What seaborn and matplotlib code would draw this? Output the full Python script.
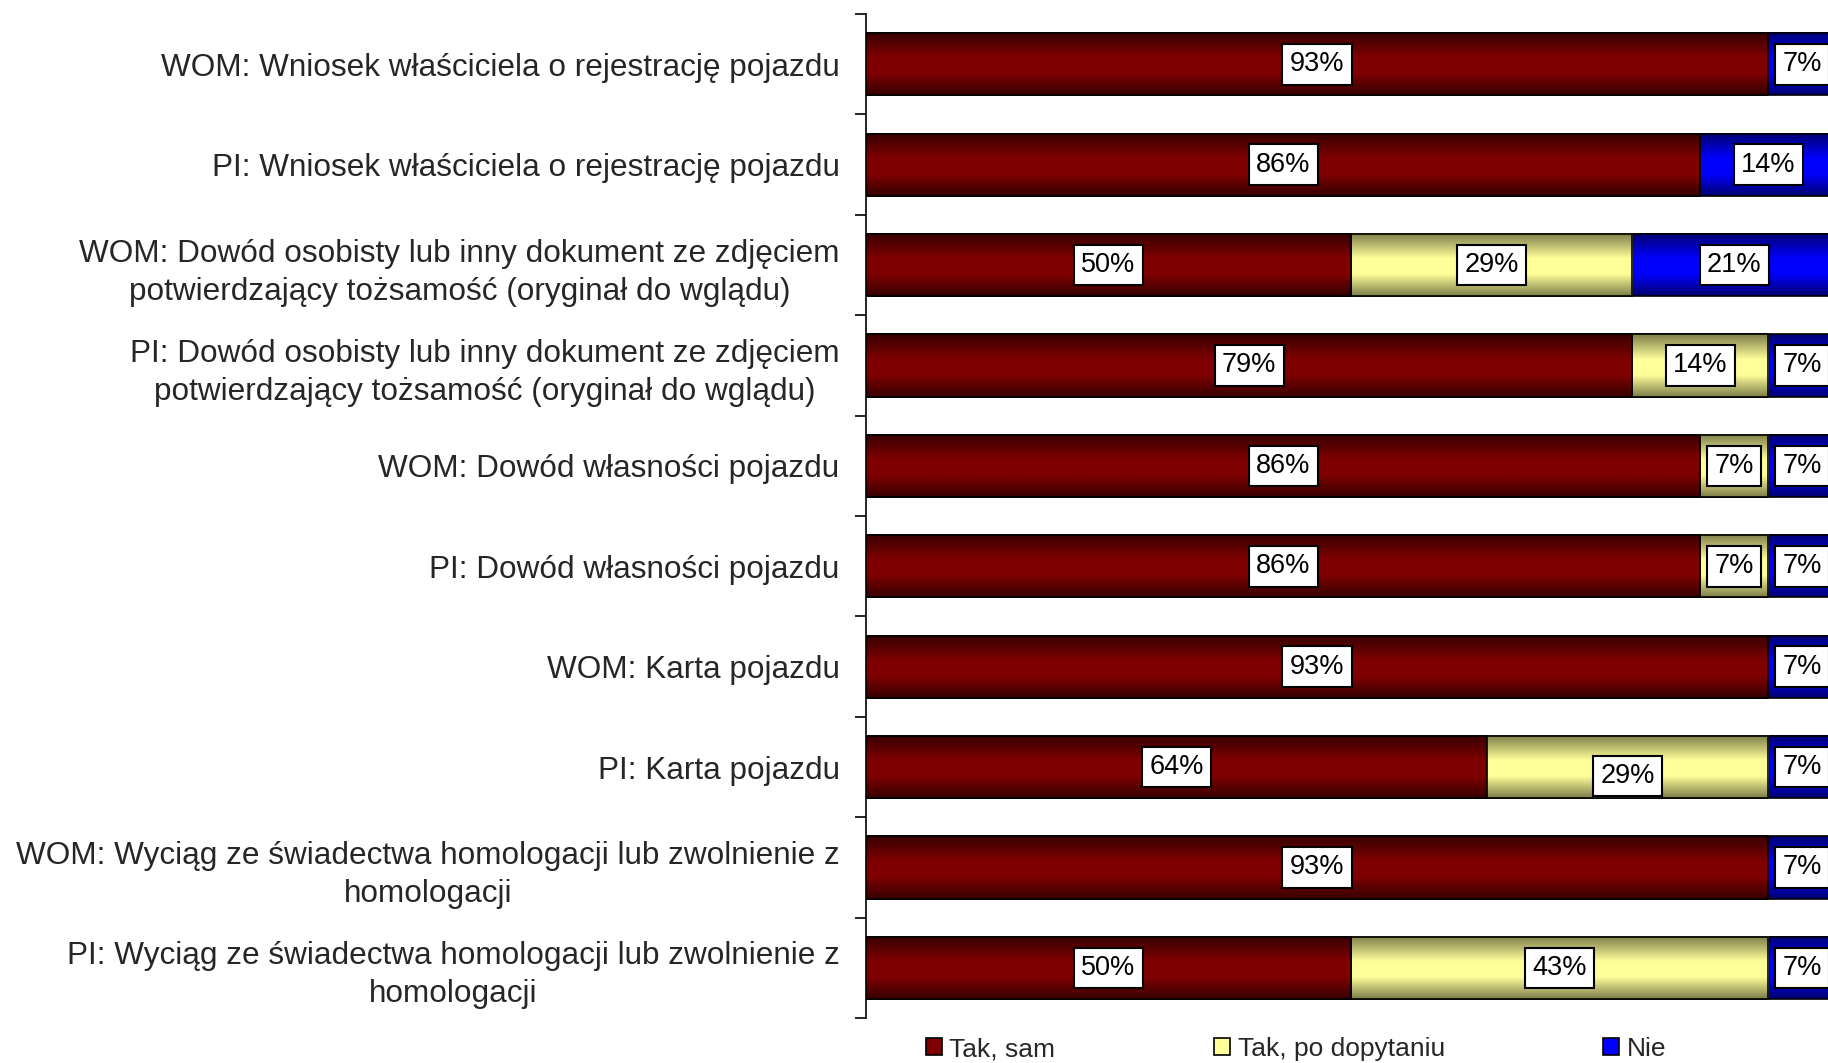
import numpy as np
import pandas as pd
import matplotlib
matplotlib.use("Agg")
import matplotlib.pyplot as plt
import seaborn as sns
from matplotlib.colors import LinearSegmentedColormap
from matplotlib.patches import Patch

# data (percent of answers)
categories = [
    "WOM: Wniosek właściciela o rejestrację pojazdu",
    "PI: Wniosek właściciela o rejestrację pojazdu",
    "WOM: Dowód osobisty lub inny dokument ze zdjęciem\npotwierdzający tożsamość (oryginał do wglądu)",
    "PI: Dowód osobisty lub inny dokument ze zdjęciem\npotwierdzający tożsamość (oryginał do wglądu)",
    "WOM: Dowód własności pojazdu",
    "PI: Dowód własności pojazdu",
    "WOM: Karta pojazdu",
    "PI: Karta pojazdu",
    "WOM: Wyciąg ze świadectwa homologacji lub zwolnienie z\nhomologacji",
    "PI: Wyciąg ze świadectwa homologacji lub zwolnienie z\nhomologacji",
]
tak_sam = [93, 86, 50, 79, 86, 86, 93, 64, 93, 50]
tak_po_dopytaniu = [0, 0, 29, 14, 7, 7, 0, 29, 0, 43]
nie = [7, 14, 21, 7, 7, 7, 7, 7, 7, 7]
series_names = ["Tak, sam", "Tak, po dopytaniu", "Nie"]

df = pd.DataFrame({
    "kategoria": categories,
    "Tak, sam": tak_sam,
    "Tak, po dopytaniu": tak_po_dopytaniu,
    "Nie": nie,
})
df["cum1"] = df["Tak, sam"]
df["cum2"] = df["cum1"] + df["Tak, po dopytaniu"]
df["cum3"] = df["cum2"] + df["Nie"]

# (mid colour, edge colour) for the bar gradients
shades = {
    "Tak, sam": ("#800000", "#380000"),
    "Tak, po dopytaniu": ("#ffff99", "#7f7f4c"),
    "Nie": ("#0000ff", "#000070"),
}

sns.set_theme(style="white")
plt.rcParams["font.family"] = ["Liberation Sans", "DejaVu Sans"]

fig = plt.figure(figsize=(18.28, 10.63), dpi=100)
# the plot area runs a little past the right edge of the picture, as in the original
ax = fig.add_axes([0.4737, 0.0423, 0.5307, 0.9445])

# stacked bars: draw cumulative totals from the back to the front
layers = [("cum3", "Nie"), ("cum2", "Tak, po dopytaniu"), ("cum1", "Tak, sam")]
for k, (col, name) in enumerate(layers):
    sns.barplot(data=df, x=col, y="kategoria", orient="h", color=shades[name][0],
                saturation=1, width=0.62, ax=ax, edgecolor="black", linewidth=1.2)

# replace flat fills by a vertical gradient (dark edges, bright middle)
grad = np.linspace(0, 1, 64).reshape(-1, 1)
n = len(categories)
for k, (col, name) in enumerate(layers):
    mid, edge = shades[name]
    cmap = LinearSegmentedColormap.from_list(
        name, [(0, edge), (0.4, mid), (0.65, mid), (1, edge)])
    for p in ax.patches[k * n:(k + 1) * n]:
        x0, y0, w, h = p.get_x(), p.get_y(), p.get_width(), p.get_height()
        p.set_facecolor("none")
        p.set_zorder(k + 1.5)
        if w <= 0:
            continue
        ax.imshow(grad, cmap=cmap, aspect="auto", extent=(x0, x0 + w, y0 + h, y0),
                  zorder=k + 1.1, interpolation="bilinear")

ax.set_xlim(0, 100)
ax.set_ylim(n - 0.5, -0.5)

# value labels in white boxes
label_dy = {(7, 1): 0.09}
for i in range(n):
    start = 0
    for j, name in enumerate(series_names):
        v = df[name].iloc[i]
        if v > 0:
            ax.text(start + v / 2, i + label_dy.get((i, j), 0), f"{v}%",
                    ha="center", va="center", fontsize=19.5, color="black", zorder=10,
                    bbox=dict(boxstyle="square,pad=0.27", fc="white", ec="black", lw=1.5))
        start += v

for s in ["top", "right", "bottom"]:
    ax.spines[s].set_visible(False)
ax.spines["left"].set_color("black")
ax.spines["left"].set_linewidth(1.2)
ax.set_xticks([])
ax.set_xlabel("")
ax.set_ylabel("")
ax.set_yticks(range(n))
ax.set_yticklabels(categories, fontsize=22.7, multialignment="center", linespacing=1.35)
ax.set_yticks(np.arange(-0.5, n, 1), minor=True)
ax.tick_params(axis="y", which="major", length=0, pad=19)
ax.tick_params(axis="y", which="minor", length=8, width=1.2, color="black", direction="out", left=True)

handles = [Patch(facecolor=shades[s][0], edgecolor="black", linewidth=1.2) for s in series_names]
fig.legend(handles, series_names, loc="center", bbox_to_anchor=(0.709, 14 / 1063),
           ncol=3, frameon=False, fontsize=19, handlelength=0.6, handleheight=0.6,
           handletextpad=0.3, columnspacing=6.0)

fig.savefig("out.png", dpi=100)
